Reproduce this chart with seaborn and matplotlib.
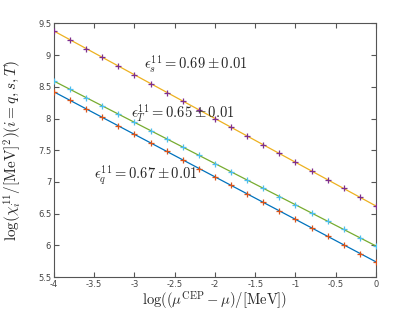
import numpy as np
import pandas as pd
import matplotlib
matplotlib.use("Agg")
import matplotlib.pyplot as plt
import seaborn as sns

x_vals = [-4.0, -3.8, -3.6, -3.4, -3.2, -3.0, -2.8, -2.6, -2.4, -2.2, -2.0,
          -1.8, -1.6, -1.4, -1.2, -1.0, -0.8, -0.6, -0.4, -0.2, 0.0]
chi_s = [9.38, 9.24, 9.10, 8.97, 8.83, 8.69, 8.55, 8.41, 8.28, 8.14, 8.00,
         7.86, 7.72, 7.59, 7.45, 7.31, 7.17, 7.03, 6.90, 6.76, 6.62]
chi_T = [8.59, 8.46, 8.33, 8.20, 8.07, 7.94, 7.81, 7.68, 7.55, 7.42, 7.29,
         7.16, 7.03, 6.90, 6.77, 6.64, 6.51, 6.38, 6.25, 6.12, 5.99]
chi_q = [8.42, 8.29, 8.15, 8.02, 7.88, 7.75, 7.62, 7.48, 7.35, 7.21, 7.08,
         6.95, 6.81, 6.68, 6.54, 6.41, 6.28, 6.14, 6.01, 5.87, 5.74]
x_ticks = [-4, -3.5, -3, -2.5, -2, -1.5, -1, -0.5, 0]
y_ticks = [5.5, 6, 6.5, 7, 7.5, 8, 8.5, 9, 9.5]
labels = [r"$\epsilon_s^{11}=0.69\pm0.01$",
          r"$\epsilon_T^{11}=0.65\pm0.01$",
          r"$\epsilon_q^{11}=0.67\pm0.01$"]

sns.set_style("white")
plt.rcParams["mathtext.fontset"] = "cm"
plt.rcParams["font.family"] = ["DejaVu Sans"]

fig = plt.figure(figsize=(4.15, 3.12), dpi=100)
ax = fig.add_axes([0.130, 0.112, 0.776, 0.813])

series = [
    (chi_s, (0.929, 0.694, 0.125), (0.494, 0.184, 0.556)),
    (chi_T, (0.466, 0.674, 0.188), (0.301, 0.745, 0.933)),
    (chi_q, (0.0, 0.447, 0.741), (0.85, 0.325, 0.098)),
]
xs = np.array(x_vals)
for ys, lc, mc in series:
    p = np.polyfit(xs, np.array(ys), 1)
    fit = np.polyval(p, xs)
    df = pd.DataFrame({"x": xs, "y": ys, "fit": fit})
    sns.lineplot(data=df, x="x", y="fit", ax=ax, color=lc, linewidth=0.9)
    sns.scatterplot(data=df, x="x", y="y", ax=ax, marker="+", color=mc,
                    s=22, linewidth=0.9, zorder=3)

ax.text(-2.88, 8.86, labels[0], fontsize=10.5, va="center", ha="left")
ax.text(-3.04, 8.08, labels[1], fontsize=10.5, va="center", ha="left")
ax.text(-3.50, 7.11, labels[2], fontsize=10.5, va="center", ha="left")

ax.set_xlim(-4, 0)
ax.set_ylim(5.5, 9.5)
ax.set_xticks(x_ticks)
ax.set_yticks(y_ticks)
ax.set_xticklabels([f"{v:g}" for v in x_ticks])
ax.set_yticklabels([f"{v:g}" for v in y_ticks])
ax.tick_params(direction="in", length=3.5, width=0.8, colors="#555555",
               labelsize=6, top=True, right=True, bottom=True, left=True,
               labelcolor="#444444", pad=2)
for sp in ax.spines.values():
    sp.set_color("#555555")
    sp.set_linewidth(0.8)
    sp.set_visible(True)

ax.set_xlabel(r"$\log((\mu^{\mathrm{CEP}}-\mu)/[\mathrm{MeV}])$", fontsize=10.5, labelpad=0)
ax.set_ylabel(r"$\log(\chi_i^{11}/[\mathrm{MeV}]^2)(i=q,s,T)$", fontsize=11, labelpad=10)

fig.savefig("out.png", dpi=100)
